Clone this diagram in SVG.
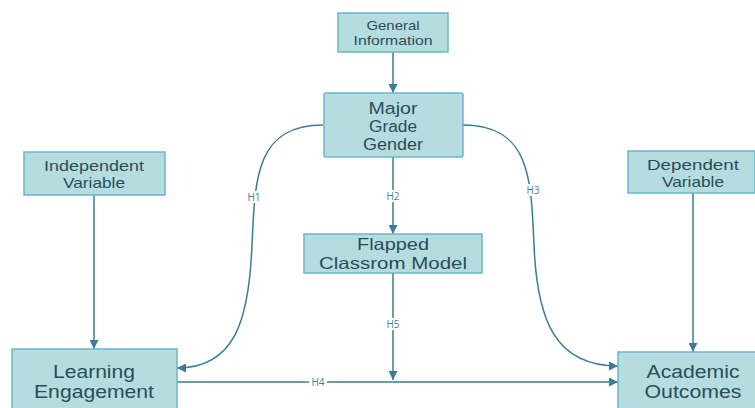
<svg xmlns="http://www.w3.org/2000/svg" width="755" height="408" viewBox="0 0 755 408">
<defs>
<marker id="ah" viewBox="0 0 10 10" refX="10" refY="5" markerWidth="9" markerHeight="9" markerUnits="userSpaceOnUse" orient="auto">
<path d="M0,0 L10,5 L0,10 Z" fill="#3a7d98"/>
</marker>
<style>
.box{fill:#b5dde0;stroke:#6bb7c8;stroke-width:1.5}
.t{font-family:"Liberation Sans","Open Sans",sans-serif;fill:#2c4c58;text-anchor:middle;dominant-baseline:central}
.s{font-size:13px}
.v{font-size:14.5px}
.m{font-size:16px}
.f{font-size:16.5px}
.l{font-size:17.5px}
.c{fill:none;stroke:#3a7d98;stroke-width:1.5}
.h{font-family:"Open Sans","Noto Sans",sans-serif;font-size:10px;fill:#4a7f95;text-anchor:middle;dominant-baseline:central}
.hb{fill:#ffffff}
</style>
</defs>
<rect width="755" height="408" fill="#ffffff"/>
<g id="connectors">
<path class="c" d="M393,52 L393,93" marker-end="url(#ah)"/>
<path class="c" d="M94,195 L94,349" marker-end="url(#ah)"/>
<path class="c" d="M693,193 L693,352" marker-end="url(#ah)"/>
<path class="c" d="M393,157 L393,234" marker-end="url(#ah)"/>
<path class="c" d="M393,273 L393,380" marker-end="url(#ah)"/>
<path class="c" d="M177,382 L618,382" marker-end="url(#ah)"/>
<path class="c" d="M323,125 C255,125 255,180 252,245 C249,320 235,368 177,368" marker-end="url(#ah)"/>
<path class="c" d="M463,125 C531,125 531,180 534,245 C537,320 555,366 618,366" marker-end="url(#ah)"/>
<rect class="hb" x="246" y="191" width="16" height="12"/>
<text class="h" x="254" y="197">H1</text>
<rect class="hb" x="385" y="190" width="16" height="12"/>
<text class="h" x="393" y="196">H2</text>
<rect class="hb" x="525" y="184" width="16" height="12"/>
<text class="h" x="533" y="190">H3</text>
<rect class="hb" x="309" y="377" width="18" height="10"/>
<text class="h" x="318" y="382">H4</text>
<rect class="hb" x="385" y="318" width="16" height="12"/>
<text class="h" x="393" y="324">H5</text>
</g>
<g id="general">
<rect class="box" x="338" y="13" width="110" height="39"/>
<text class="t s" x="393" y="25" textLength="53" lengthAdjust="spacingAndGlyphs">General</text>
<text class="t s" x="393" y="40" textLength="79" lengthAdjust="spacingAndGlyphs">Information</text>
</g>
<g id="major">
<rect class="box" x="324" y="93" width="139" height="64" rx="2"/>
<text class="t m" x="393" y="108" textLength="49" lengthAdjust="spacingAndGlyphs">Major</text>
<text class="t m" x="393" y="126" textLength="48" lengthAdjust="spacingAndGlyphs">Grade</text>
<text class="t m" x="393" y="144" textLength="60" lengthAdjust="spacingAndGlyphs">Gender</text>
</g>
<g id="independent">
<rect class="box" x="24" y="152" width="141" height="43"/>
<text class="t v" x="94" y="166" textLength="100" lengthAdjust="spacingAndGlyphs">Independent</text>
<text class="t v" x="94" y="183" textLength="62" lengthAdjust="spacingAndGlyphs">Variable</text>
</g>
<g id="dependent">
<rect class="box" x="628" y="151" width="127" height="42"/>
<text class="t v" x="693" y="165" textLength="92" lengthAdjust="spacingAndGlyphs">Dependent</text>
<text class="t v" x="693" y="182" textLength="62" lengthAdjust="spacingAndGlyphs">Variable</text>
</g>
<g id="flapped">
<rect class="box" x="304" y="234" width="178" height="39"/>
<text class="t f" x="393" y="244" textLength="72" lengthAdjust="spacingAndGlyphs">Flapped</text>
<text class="t f" x="393" y="263" textLength="148" lengthAdjust="spacingAndGlyphs">Classrom Model</text>
</g>
<g id="learning">
<rect class="box" x="12" y="349" width="165" height="70"/>
<text class="t l" x="94" y="372" textLength="82" lengthAdjust="spacingAndGlyphs">Learning</text>
<text class="t l" x="94" y="392" textLength="120" lengthAdjust="spacingAndGlyphs">Engagement</text>
</g>
<g id="academic">
<rect class="box" x="618" y="352" width="150" height="70"/>
<text class="t l" x="693" y="372" textLength="93" lengthAdjust="spacingAndGlyphs">Academic</text>
<text class="t l" x="693" y="392" textLength="97" lengthAdjust="spacingAndGlyphs">Outcomes</text>
</g>
</svg>
